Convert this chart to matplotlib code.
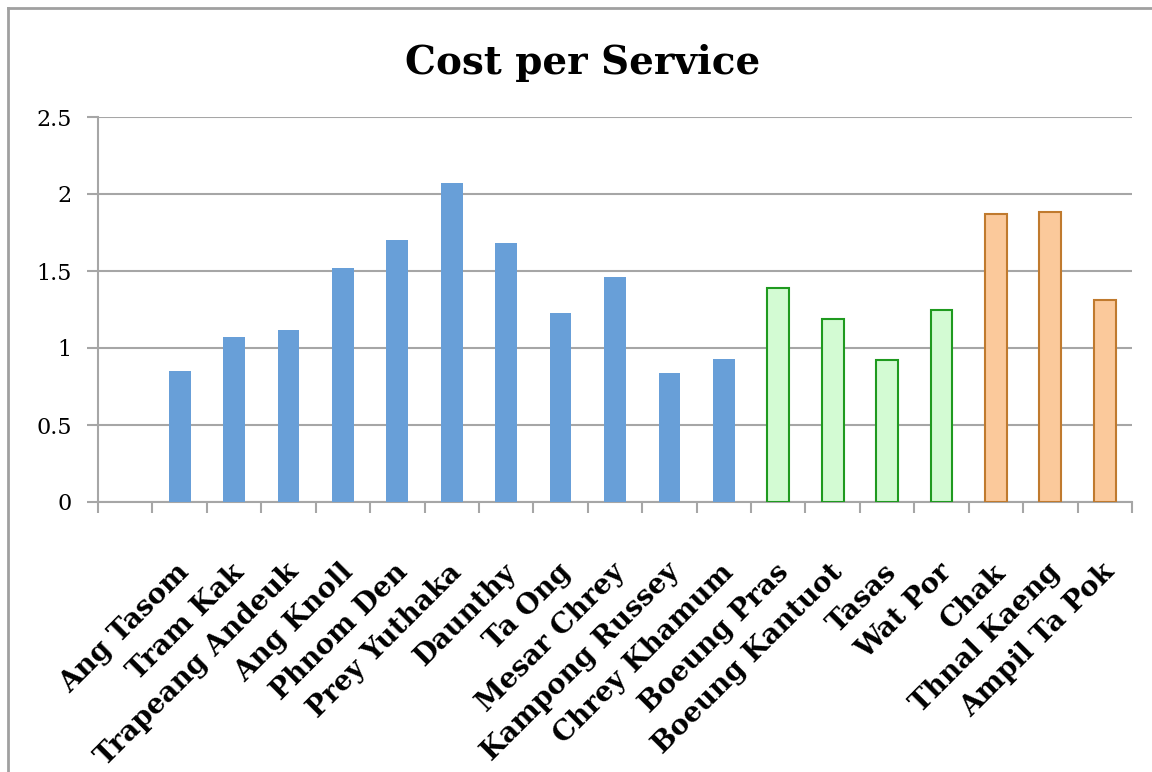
import matplotlib
matplotlib.use("Agg")
import matplotlib.pyplot as plt
import matplotlib.transforms as mtransforms
from matplotlib.lines import Line2D

# first slot is an empty category in the source chart
categories = [
    "", "Ang Tasom", "Tram Kak", "Trapeang Andeuk", "Ang Knoll", "Phnom Den",
    "Prey Yuthaka", "Daunthy", "Ta Ong", "Mesar Chrey", "Kampong Russey",
    "Chrey Khamum", "Boeung Pras", "Boeung Kantuot", "Tasas", "Wat Por",
    "Chak", "Thnal Kaeng", "Ampil Ta Pok",
]
blue_values = [0.85, 1.07, 1.12, 1.52, 1.70, 2.07, 1.68, 1.23, 1.46, 0.84, 0.93]
green_values = [1.39, 1.19, 0.92, 1.25]
orange_values = [1.87, 1.88, 1.31]
y_ticks = [0, 0.5, 1, 1.5, 2, 2.5]
y_tick_labels = ["0", "0.5", "1", "1.5", "2", "2.5"]

serif = ["DejaVu Serif"]

fig = plt.figure(figsize=(11.52, 7.72), dpi=100)
ax = fig.add_axes([98 / 1152, 1 - 502 / 772, (1132 - 98) / 1152, (502 - 117) / 772])

x_blue = list(range(1, 1 + len(blue_values)))
x_green = list(range(x_blue[-1] + 1, x_blue[-1] + 1 + len(green_values)))
x_orange = list(range(x_green[-1] + 1, x_green[-1] + 1 + len(orange_values)))

ax.bar(x_blue, blue_values, width=0.4, color="#689fd8", zorder=3)
ax.bar(x_green, green_values, width=0.4, color="#d3fbd3",
       edgecolor="#1f9a1f", linewidth=1.5, zorder=3)
ax.bar(x_orange, orange_values, width=0.4, color="#fbc99b",
       edgecolor="#c07a2e", linewidth=1.5, zorder=3)

ax.set_xlim(-0.5, len(categories) - 0.5)
ax.set_ylim(0, 2.5)

ax.set_yticks(y_ticks)
ax.set_yticklabels(y_tick_labels, family=serif, fontsize=16)
ax.yaxis.grid(True, color="#a6a6a6", linewidth=1.5, zorder=0)
ax.tick_params(axis="y", length=8, width=1.5, color="#a6a6a6", pad=11)

# category ticks sit on the slot boundaries, labels in the slot centres
ax.set_xticks([i - 0.5 for i in range(len(categories) + 1)])
ax.set_xticklabels([])
ax.tick_params(axis="x", length=8, width=1.5, color="#a6a6a6")

offset = mtransforms.ScaledTranslation(6 / 100, -66 / 100, fig.dpi_scale_trans)
for i, name in enumerate(categories):
    ax.text(i, 0, name, transform=ax.get_xaxis_transform() + offset,
            rotation=45, rotation_mode="anchor", ha="right", va="center",
            family=serif, fontweight="bold", fontsize=20)

for side in ["top", "right"]:
    ax.spines[side].set_visible(False)
for side in ["left", "bottom"]:
    ax.spines[side].set_color("#a6a6a6")
    ax.spines[side].set_linewidth(1.5)

fig.text(583 / 1152, 1 - 63 / 772, "Cost per Service", ha="center", va="center",
         family=serif, fontweight="bold", fontsize=28)

# outer chart frame, partly cut off by the page
fig.add_artist(Line2D([8 / 1152, 8 / 1152], [0, 1 - 8 / 772],
                      transform=fig.transFigure, color="#a0a0a0", linewidth=2))
fig.add_artist(Line2D([8 / 1152, 1], [1 - 8 / 772, 1 - 8 / 772],
                      transform=fig.transFigure, color="#a0a0a0", linewidth=2))

fig.savefig("out.png", dpi=100)
